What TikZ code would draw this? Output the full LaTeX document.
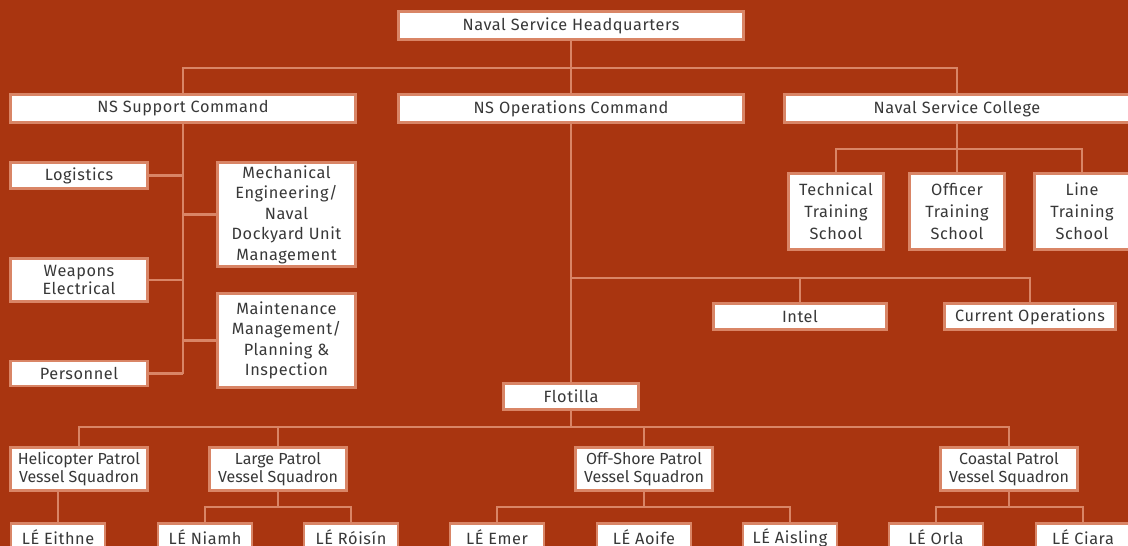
\documentclass[tikz,border=0pt]{standalone}
\usepackage{fontspec}
\setmainfont{Fira Sans}
\newfontfamily\spaced[LetterSpace=3.5]{Fira Sans}
\definecolor{bgc}{RGB}{169,53,16}
\definecolor{lnc}{RGB}{217,133,102}
\definecolor{txc}{RGB}{56,56,56}
\begin{document}
\begin{tikzpicture}[x=1pt,y=-1pt,
  box/.style={draw=lnc, line width=2.8pt, fill=white, text=txc, inner sep=0pt, align=center},
  big/.style={box, font=\spaced\fontsize{16.3}{20}\selectfont, minimum width=345pt, minimum height=28pt},
  school/.style={box, font=\spaced\fontsize{16.3}{22}\selectfont, minimum width=95pt, minimum height=76pt},
  side/.style={box, font=\spaced\fontsize{16.3}{18}\selectfont, minimum width=137pt},
  tall/.style={box, font=\spaced\fontsize{16.3}{20.5}\selectfont, minimum width=138pt},
  small/.style={box, font=\spaced\fontsize{16.3}{20}\selectfont, minimum height=26pt},
  sqd/.style={box, font=\fontsize{16}{18.3}\selectfont, minimum width=137pt, minimum height=43pt},
  ship/.style={box, font=\spaced\fontsize{16.3}{20}\selectfont, minimum width=94pt, minimum height=28pt},
  conn/.style={draw=lnc, line width=2.6pt}]
\fill[bgc] (0,0) rectangle (1128,546);
\useasboundingbox (0,0) rectangle (1128,546);

\node[big] (hq) at (571,25.5) {Naval Service Headquarters};
\node[big] (sup) at (183,108.5) {NS Support Command};
\node[big] (ops) at (571,108.5) {NS Operations Command};
\node[big] (col) at (957,108.5) {Naval Service College};

\node[school] (tech) at (836,211.5) {Technical\\Training\\School};
\node[school] (off) at (957,211.5) {Officer\\Training\\School};
\node[school] (line) at (1082,211.5) {Line\\Training\\School};

\node[side, minimum height=26pt] (log) at (79,175.5) {Logistics};
\node[side, minimum height=43pt] (weap) at (79,280) {Weapons\\Electrical};
\node[side, minimum height=25pt] (pers) at (79,373.5) {Personnel};
\node[tall, minimum height=104pt] (mech) at (286.5,214.5) {Mechanical\\Engineering/\\Naval\\Dockyard Unit\\Management};
\node[tall, minimum height=94pt] (maint) at (286.5,340.5) {Maintenance\\Management/\\Planning \&\\Inspection};

\node[small, minimum width=173pt] (intel) at (800,316.5) {Intel};
\node[small, minimum width=171pt] (curops) at (1030,316.5) {Current Operations};

\node[small, minimum width=135pt] (flot) at (571,396.5) {Flotilla};

\node[sqd] (heli) at (79,469) {Helicopter Patrol\\Vessel Squadron};
\node[sqd] (large) at (278,469) {Large Patrol\\Vessel Squadron};
\node[sqd] (offs) at (644,469) {Off-Shore Patrol\\Vessel Squadron};
\node[sqd] (coast) at (1009,469) {Coastal Patrol\\Vessel Squadron};

\node[ship] (eithne) at (58,537.5) {LÉ Eithne};
\node[ship] (niamh) at (205,537.5) {LÉ Niamh};
\node[ship] (roisin) at (351,537.5) {LÉ Róisín};
\node[ship] (emer) at (497,537.5) {LÉ Emer};
\node[ship] (aoife) at (644,537.5) {LÉ Aoife};
\node[ship] (aisling) at (790,537.5) {LÉ Aisling};
\node[ship] (orla) at (936,537.5) {LÉ Orla};
\node[ship] (ciara) at (1083,537.5) {LÉ Ciara};

\coordinate (b1) at (0,68);
\coordinate (b2) at (0,149);
\coordinate (b3) at (0,278);
\coordinate (b4) at (0,427);
\coordinate (b5) at (0,507);

\draw[conn] (hq.south) -- (ops.north);
\draw[conn] (sup.north) |- (col.north |- b1) -- (col.north);

\draw[conn] (sup.south) -- (sup.south |- pers.east);
\draw[conn] (log.east) -- (log.east -| sup.south);
\draw[conn] (weap.east) -- (weap.east -| sup.south);
\draw[conn] (pers.east) -- (pers.east -| sup.south);
\draw[conn] (mech.west) -- (mech.west -| sup.south);
\draw[conn] (maint.west) -- (maint.west -| sup.south);

\draw[conn] (col.south) -- (off.north);
\draw[conn] (tech.north) |- (line.north |- b2) -- (line.north);

\draw[conn] (ops.south) -- (flot.north);
\draw[conn] (ops.south |- b3) -| (curops.north);
\draw[conn] (intel.north) -- (intel.north |- b3);

\draw[conn] (flot.south) -- (flot.south |- b4);
\draw[conn] (heli.north) |- (coast.north |- b4) -- (coast.north);
\draw[conn] (large.north) -- (large.north |- b4);
\draw[conn] (offs.north) -- (offs.north |- b4);

\draw[conn] (eithne.north) -- (eithne.north |- heli.south);
\draw[conn] (large.south) -- (large.south |- b5);
\draw[conn] (niamh.north) |- (roisin.north |- b5) -- (roisin.north);
\draw[conn] (offs.south) -- (offs.south |- b5);
\draw[conn] (emer.north) |- (aisling.north |- b5) -- (aisling.north);
\draw[conn] (coast.south) -- (coast.south |- b5);
\draw[conn] (orla.north) |- (ciara.north |- b5) -- (ciara.north);
\end{tikzpicture}
\end{document}
